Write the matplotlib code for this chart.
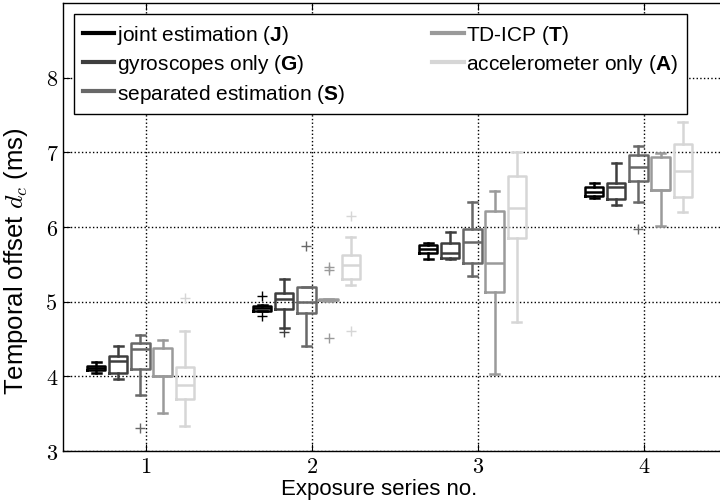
import matplotlib
matplotlib.use("Agg")
import matplotlib.pyplot as plt
from matplotlib.lines import Line2D

plt.rcParams['font.family'] = ['Liberation Sans', 'DejaVu Sans']
plt.rcParams['mathtext.fontset'] = 'custom'
plt.rcParams['mathtext.rm'] = 'Liberation Sans'
plt.rcParams['mathtext.bf'] = 'Liberation Sans:bold'
plt.rcParams['mathtext.it'] = 'cmmi10'

# series no.
series = [1, 2, 3, 4]
yticks = [3, 4, 5, 6, 7, 8]

methods = ['joint estimation ($\\mathbf{J}$)',
           'gyroscopes only ($\\mathbf{G}$)',
           'separated estimation ($\\mathbf{S}$)',
           'TD-ICP ($\\mathbf{T}$)',
           'accelerometer only ($\\mathbf{A}$)']
colors = ['#000000', '#3e3e3e', '#686868', '#9a9a9a', '#d6d6d6']

# box stats per method, one entry per series: whislo, q1, med, q3, whishi
J_stats = [[4.05, 4.08, 4.11, 4.14, 4.19],
           [4.87, 4.88, 4.91, 4.94, 4.96],
           [5.57, 5.65, 5.71, 5.76, 5.79],
           [6.39, 6.41, 6.47, 6.53, 6.59]]
J_fliers = [[], [5.07, 4.81], [], []]

G_stats = [[3.96, 4.05, 4.20, 4.27, 4.41],
           [4.65, 4.90, 5.04, 5.12, 5.31],
           [5.57, 5.58, 5.65, 5.78, 5.93],
           [6.29, 6.38, 6.53, 6.59, 6.86]]
G_fliers = [[], [4.60], [], []]

S_stats = [[3.75, 4.10, 4.37, 4.45, 4.56],
           [4.40, 4.85, 5.00, 5.20, 5.20],
           [5.34, 5.52, 5.80, 5.97, 6.33],
           [6.33, 6.62, 6.81, 6.97, 7.09]]
S_fliers = [[3.31], [5.74], [], [5.98]]

T_stats = [[3.51, 4.00, 4.00, 4.38, 4.49],
           [5.01, 5.02, 5.02, 5.03, 5.03],
           [4.03, 5.13, 5.52, 6.21, 6.48],
           [6.01, 6.49, 6.49, 6.94, 6.99]]
T_fliers = [[], [5.47, 5.43, 4.52], [], []]

A_stats = [[3.33, 3.69, 3.88, 4.13, 4.61],
           [5.22, 5.30, 5.49, 5.62, 5.87],
           [4.73, 5.85, 6.25, 6.68, 7.00],
           [6.20, 6.40, 6.75, 7.11, 7.40]]
A_fliers = [[5.05], [6.15, 4.61], [], []]

all_stats = [J_stats, G_stats, S_stats, T_stats, A_stats]
all_fliers = [J_fliers, G_fliers, S_fliers, T_fliers, A_fliers]

fig = plt.figure(figsize=(7.2, 5.02), dpi=100)
ax = fig.add_axes([0.0875, 0.0996, 0.9222, 0.8924])

lw = 1.8
for k in range(5):
    stats = []
    for i in range(4):
        lo, q1, med, q3, hi = all_stats[k][i]
        stats.append({'whislo': lo, 'q1': q1, 'med': med, 'q3': q3,
                      'whishi': hi, 'fliers': all_fliers[k][i]})
    pos = [s - 0.30 + k * 0.1333 for s in series]
    c = colors[k]
    ax.bxp(stats, positions=pos, widths=0.11, manage_ticks=False,
           boxprops=dict(color=c, linewidth=lw),
           whiskerprops=dict(color=c, linewidth=lw),
           capprops=dict(color=c, linewidth=lw),
           medianprops=dict(color=c, linewidth=lw),
           flierprops=dict(marker='+', markeredgecolor=c, markersize=6.5,
                           markeredgewidth=1.0, linestyle='none'))

ax.set_xlim(0.5, 4.5)
ax.set_ylim(3, 9)
ax.set_xticks(series)
ax.set_yticks(yticks)
ax.set_xticklabels([str(s) for s in series], fontfamily='cmr10', fontsize=16)
ax.set_yticklabels([str(t) for t in yticks], fontfamily='cmr10', fontsize=16)
ax.tick_params(direction='in', top=True, right=True, length=5, width=0.8, pad=4)
ax.grid(True, linestyle=':', color='k', linewidth=1.0)
for sp in ax.spines.values():
    sp.set_linewidth(1.0)

ax.set_ylabel('Temporal offset $d_c$ (ms)', fontsize=18.5)
ax.set_xlabel('Exposure series no.', fontsize=16)
ax.yaxis.set_label_coords(-0.050, 0.426)
ax.xaxis.set_label_coords(0.476, -0.060)

handles = [Line2D([], [], color=c, linewidth=3) for c in colors]
leg = ax.legend(handles, methods, ncol=2, loc='upper left',
                bbox_to_anchor=(0.016, 0.976),
                borderaxespad=0, fontsize=15, handlelength=1.5,
                handletextpad=0.12, labelspacing=0.3, columnspacing=4.2,
                fancybox=False, framealpha=1, edgecolor='k', borderpad=0.45)
leg.get_frame().set_linewidth(1.0)

fig.savefig('out.png', dpi=100)
